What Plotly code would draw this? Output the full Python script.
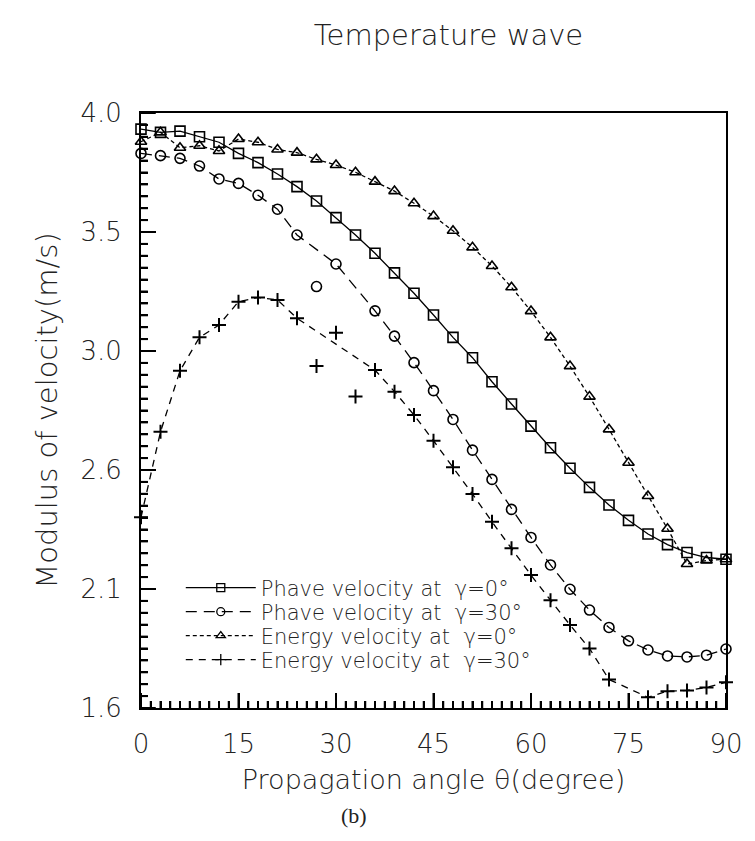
import plotly.graph_objects as go

# ---- data ----
angles = [0, 3, 6, 9, 12, 15, 18, 21, 24, 27, 30, 33, 36, 39, 42, 45,
          48, 51, 54, 57, 60, 63, 66, 69, 72, 75, 78, 81, 84, 87, 90]

phase_g0 = [3.935, 3.922, 3.927, 3.904, 3.882, 3.837, 3.800, 3.754, 3.703, 3.645,
            3.578, 3.508, 3.434, 3.355, 3.273, 3.185, 3.095, 3.013, 2.916, 2.826,
            2.737, 2.650, 2.567, 2.490, 2.419, 2.357, 2.302, 2.259, 2.227, 2.207, 2.200]

phase_g30 = [3.837, 3.828, 3.817, 3.786, 3.734, 3.716, 3.668, 3.612, 3.508, 3.300,
             3.391, None, 3.202, 3.100, 2.993, 2.880, 2.764, 2.640, 2.522, 2.401,
             2.288, 2.177, 2.079, 1.995, 1.925, 1.871, 1.834, 1.810, 1.806, 1.813, 1.838]

energy_g0 = [3.884, 3.922, 3.860, 3.868, 3.847, 3.895, 3.882, 3.853, 3.840, 3.813,
             3.790, 3.761, 3.723, 3.685, 3.636, 3.584, 3.525, 3.458, 3.383, 3.297,
             3.201, 3.095, 2.979, 2.856, 2.724, 2.589, 2.455, 2.323, 2.181, 2.195, 2.200]

energy_g30 = [2.369, 2.714, 2.960, 3.095, 3.145, 3.239, 3.256, 3.246, 3.172, 2.979,
              3.114, 2.856, 2.963, 2.876, 2.782, 2.678, 2.571, 2.463, 2.351, 2.244,
              2.136, 2.035, 1.935, 1.840, 1.715, None, 1.643, 1.668, 1.671, 1.683, 1.704]

# scattered points that the curves do not pass through
phase_g30_off_curve = [27]
energy_g30_off_curve = [27, 30, 33]

x_tickvals = [0, 15, 30, 45, 60, 75, 90]
x_minor_step = 1.5
y_tickvals = [1.6, 2.08, 2.56, 3.04, 3.52, 4.0]
y_ticktext = ["1.6", "2.1", "2.6", "3.0", "3.5", "4.0"]
y_minor_step = 0.048

names = ["Phave velocity at\u00a0 \u03b3=0\u00b0",
         "Phave velocity at\u00a0 \u03b3=30\u00b0",
         "Energy velocity at\u00a0 \u03b3=0\u00b0",
         "Energy velocity at\u00a0 \u03b3=30\u00b0"]

FONT = "DejaVu Sans"
W = 200
WIDTH, HEIGHT = 755, 838
ML, MR, MT, MB = 141, 20, 113, 130
PW, PH = WIDTH - ML - MR, HEIGHT - MT - MB


def curve(values, off):
    return [None if a in off else v for a, v in zip(angles, values)]


series = [
    (names[0], phase_g0, [], "solid", "square-open"),
    (names[1], phase_g30, phase_g30_off_curve, "11px,7px", "circle-open"),
    (names[2], energy_g0, [], "4px,3px", "triangle-up-open"),
    (names[3], energy_g30, energy_g30_off_curve, "7px,6px", "cross-thin-open"),
]

legend_ids = ["legend", "legend2", "legend3", "legend4"]

fig = go.Figure()
for (name, vals, off, dash, sym), lg in zip(series, legend_ids):
    fig.add_trace(go.Scatter(
        x=angles, y=curve(vals, off), mode="lines", connectgaps=True,
        line=dict(color="black", width=1.3, dash=dash),
        showlegend=False, hoverinfo="skip", cliponaxis=False))
    fig.add_trace(go.Scatter(
        x=angles, y=vals, mode="markers", showlegend=False, cliponaxis=False,
        marker=dict(symbol=sym, size=10, color="black",
                    line=dict(color="black", width=1.6 if sym != "cross-thin-open" else 2))))
    fig.add_trace(go.Scatter(
        x=[None], y=[None], mode="lines+markers", name=name, legend=lg,
        line=dict(color="black", width=1.3, dash=dash),
        marker=dict(symbol=sym, size=8, color="black",
                    line=dict(color="black", width=1.3))))

legend_style = dict(xanchor="left", yanchor="middle", bgcolor="rgba(0,0,0,0)",
                    font=dict(size=21, family=FONT, weight=W), itemwidth=70)
row_y = [0.2017, 0.1613, 0.121, 0.0807]

fig.update_layout(
    width=WIDTH, height=HEIGHT,
    margin=dict(l=ML, r=MR, t=MT, b=MB),
    paper_bgcolor="white", plot_bgcolor="white",
    font=dict(family=FONT, color="#222", size=24, weight=W),
    title=dict(text="Temperature wave", x=0.594, xanchor="center", y=1 - 35 / HEIGHT,
               yanchor="middle", font=dict(size=29, family=FONT, weight=W)),
    showlegend=True,
    legend=dict(x=0.068, y=row_y[0], **legend_style),
    legend2=dict(x=0.068, y=row_y[1], **legend_style),
    legend3=dict(x=0.068, y=row_y[2], **legend_style),
    legend4=dict(x=0.068, y=row_y[3], **legend_style),
)

fig.update_xaxes(
    range=[0, 90], tickmode="array", tickvals=x_tickvals,
    ticks="inside", ticklen=15, tickwidth=2, tickcolor="black",
    minor=dict(tickmode="linear", tick0=0, dtick=x_minor_step, ticks="inside",
               ticklen=7, tickwidth=2, tickcolor="black"),
    showline=True, linecolor="black", linewidth=2, mirror=True,
    showgrid=False, zeroline=False, ticklabeloverflow="allow",
    tickfont=dict(size=26), ticklabelstandoff=12,
    title=dict(text="Propagation angle \u03b8(degree)", standoff=12,
               font=dict(size=27)),
)
fig.update_yaxes(
    range=[1.6, 4.0], tickmode="array", tickvals=y_tickvals, ticktext=y_ticktext,
    ticks="inside", ticklen=15, tickwidth=2, tickcolor="black",
    minor=dict(tickmode="linear", tick0=1.6, dtick=y_minor_step, ticks="inside",
               ticklen=7, tickwidth=2, tickcolor="black"),
    showline=True, linecolor="black", linewidth=2, mirror=True,
    showgrid=False, zeroline=False, ticklabeloverflow="allow",
    tickfont=dict(size=26), ticklabelstandoff=12,
    title=dict(text="Modulus of velocity(m/s)", standoff=14,
               font=dict(size=29)),
)

# tick marks also drawn as frame decorations on the axis scales
x_minor = [i * x_minor_step for i in range(int(round(90 / x_minor_step)) + 1)]
y_minor = [1.6 + k * y_minor_step for k in range(int(round(2.4 / y_minor_step)) + 1)]
for xv in x_minor:
    ln = 15 if any(abs(xv - t) < 1e-6 for t in x_tickvals) else 7
    fig.add_shape(type="line", xref="x", yref="paper", x0=xv, x1=xv,
                  y0=0, y1=ln / PH, line=dict(color="black", width=2),
                  layer="above")
for yv in y_minor:
    ln = 15 if any(abs(yv - t) < 1e-6 for t in y_tickvals) else 7
    fig.add_shape(type="line", xref="paper", yref="y", x0=0, x1=ln / PW,
                  y0=yv, y1=yv, line=dict(color="black", width=2),
                  layer="above")

fig.add_annotation(text="(b)", xref="paper", yref="paper", x=0.364, y=-0.18,
                   xanchor="center", yanchor="middle", showarrow=False,
                   font=dict(family="Liberation Serif", size=22, color="#222"))

fig.write_html("out.html", config={"displayModeBar": False},
               post_script="document.body.style.margin='0';")
